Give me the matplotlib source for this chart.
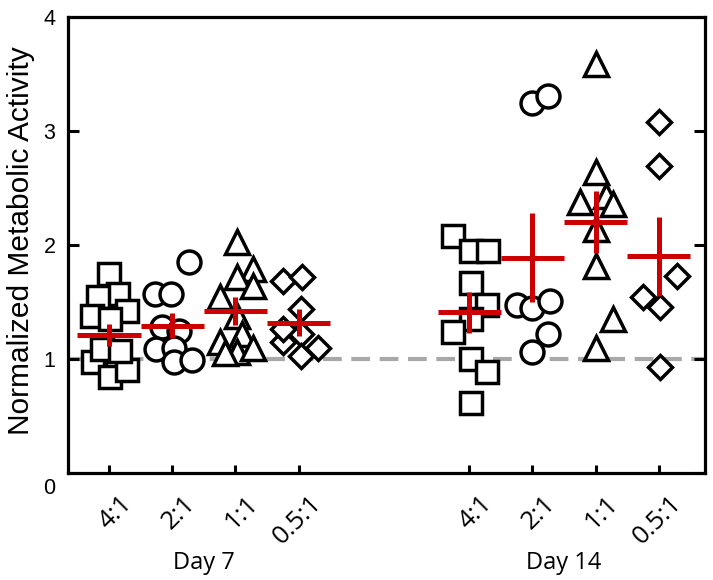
import matplotlib
matplotlib.use("Agg")
import matplotlib.pyplot as plt
from matplotlib.transforms import ScaledTranslation, blended_transform_factory

# ---------------- data ----------------
ratios = ["4:1", "2:1", "1:1", "0.5:1"]
days = ["Day 7", "Day 14"]
group_pos = [1, 2, 3, 4, 6.7, 7.7, 8.7, 9.7]
group_markers = ["s", "o", "^", "D", "s", "o", "^", "D"]

d7_41 = [1.75, 1.57, 1.54, 1.42, 1.38, 1.35, 0.97, 0.94, 0.84, 0.90, 1.09, 1.07]
d7_41_jit = [0.0, 0.14, -0.17, 0.28, -0.27, 0.02, -0.25, 0.13, 0.02, 0.28, -0.11, 0.17]
d7_21 = [1.85, 1.57, 1.57, 1.28, 1.25, 1.09, 1.10, 0.97, 0.99]
d7_21_jit = [0.27, -0.28, -0.02, -0.16, 0.11, -0.25, 0.03, 0.03, 0.32]
d7_11 = [2.03, 1.79, 1.72, 1.64, 1.54, 1.38, 1.15, 1.22, 1.06, 1.10, 1.05]
d7_11_jit = [0.03, 0.28, 0.03, 0.28, -0.24, 0.03, -0.24, 0.11, 0.03, 0.28, -0.16]
d7_051 = [1.68, 1.72, 1.44, 1.15, 1.22, 1.03, 1.10, 1.26]
d7_051_jit = [-0.25, 0.06, 0.03, -0.25, 0.03, 0.03, 0.30, -0.25]

d14_41 = [2.08, 1.95, 1.95, 1.67, 1.47, 1.35, 1.24, 1.00, 0.89, 0.61]
d14_41_jit = [-0.25, 0.02, 0.30, 0.02, 0.28, 0.02, -0.25, 0.02, 0.28, 0.02]
d14_21 = [3.25, 3.31, 1.47, 1.45, 1.51, 1.22, 1.06]
d14_21_jit = [0.0, 0.24, -0.25, 0.0, 0.27, 0.24, 0.0]
d14_11 = [3.59, 2.64, 2.38, 2.43, 2.36, 2.14, 1.82, 1.35, 1.10]
d14_11_jit = [0.0, 0.0, -0.25, 0.17, 0.27, 0.0, 0.0, 0.27, 0.0]
d14_051 = [3.08, 2.69, 1.73, 1.54, 1.46, 0.93]
d14_051_jit = [0.0, 0.0, 0.28, -0.25, 0.02, 0.02]

group_values = [d7_41, d7_21, d7_11, d7_051, d14_41, d14_21, d14_11, d14_051]
group_jitter = [d7_41_jit, d7_21_jit, d7_11_jit, d7_051_jit,
                d14_41_jit, d14_21_jit, d14_11_jit, d14_051_jit]

means = [1.21, 1.29, 1.42, 1.32, 1.41, 1.89, 2.20, 1.90]
sems = [0.10, 0.11, 0.12, 0.12, 0.18, 0.39, 0.27, 0.35]

y_ticks = [0, 1, 2, 3, 4]

# ---------------- style ----------------
marker_sizes = {"s": 16.5, "o": 16.5, "^": 17, "D": 12.5}
red = "#cc0000"
yfont = "Liberation Sans"
xfont = "Open Sans"

fig = plt.figure(figsize=(7.13, 5.80), dpi=100)
ax = fig.add_axes([68 / 713, 1 - 473 / 580, (705 - 68) / 713, (473 - 17) / 580])

ax.axhline(1, color="#a8a8a8", lw=3, dashes=(4.5, 2.3), zorder=1)

for pos, vals, jit, mk in zip(group_pos, group_values, group_jitter, group_markers):
    xs = [pos + j for j in jit]
    ax.plot(xs, vals, linestyle="none", marker=mk, ms=marker_sizes[mk],
            mfc="white", mec="black", mew=2.5, zorder=2)

for pos, m, e in zip(group_pos, means, sems):
    ax.hlines(m, pos - 0.5, pos + 0.5, color=red, lw=3.6, zorder=3)
    ax.vlines(pos, m - e, m + e, color=red, lw=3.6, zorder=3)

ax.set_xlim(0.35, 10.43)
ax.set_ylim(0, 4)

for sp in ax.spines.values():
    sp.set_linewidth(2.3)

ax.set_yticks(y_ticks)
ax.set_yticklabels([str(t) for t in y_ticks], fontsize=15.5, family=yfont)
ax.set_xticks(group_pos)
ax.tick_params(axis="y", direction="in", length=8, width=2.2, pad=9,
               left=True, right=True)
ax.tick_params(axis="x", direction="in", length=6, width=2.2,
               top=False, bottom=True, labelbottom=False)

ylabs = ax.get_yticklabels()
ylabs[0].set_transform(ylabs[0].get_transform() +
                       ScaledTranslation(0, -13 / 100, fig.dpi_scale_trans))

# rotated category labels under each tick
xtrans = blended_transform_factory(ax.transData, ax.transAxes) + \
    ScaledTranslation(19 / 100, -27 / 100, fig.dpi_scale_trans)
for pos, lab in zip(group_pos, ratios + ratios):
    ax.text(pos, 0, lab, transform=xtrans, rotation=45, rotation_mode="anchor",
            ha="right", va="center", fontsize=18.5, family=xfont)

ax.set_ylabel("Normalized Metabolic Activity", fontsize=21.5, family=yfont)
ax.yaxis.set_label_coords(-0.052, 0.509)

trans = blended_transform_factory(ax.transData, ax.transAxes)
day_centers = [sum(group_pos[:4]) / 4, sum(group_pos[4:]) / 4]
for dc, dl in zip(day_centers, days):
    ax.text(dc, -0.197, dl, transform=trans, ha="center", va="center",
            fontsize=17, family=xfont)

fig.savefig("out.png", dpi=100, facecolor="white")
